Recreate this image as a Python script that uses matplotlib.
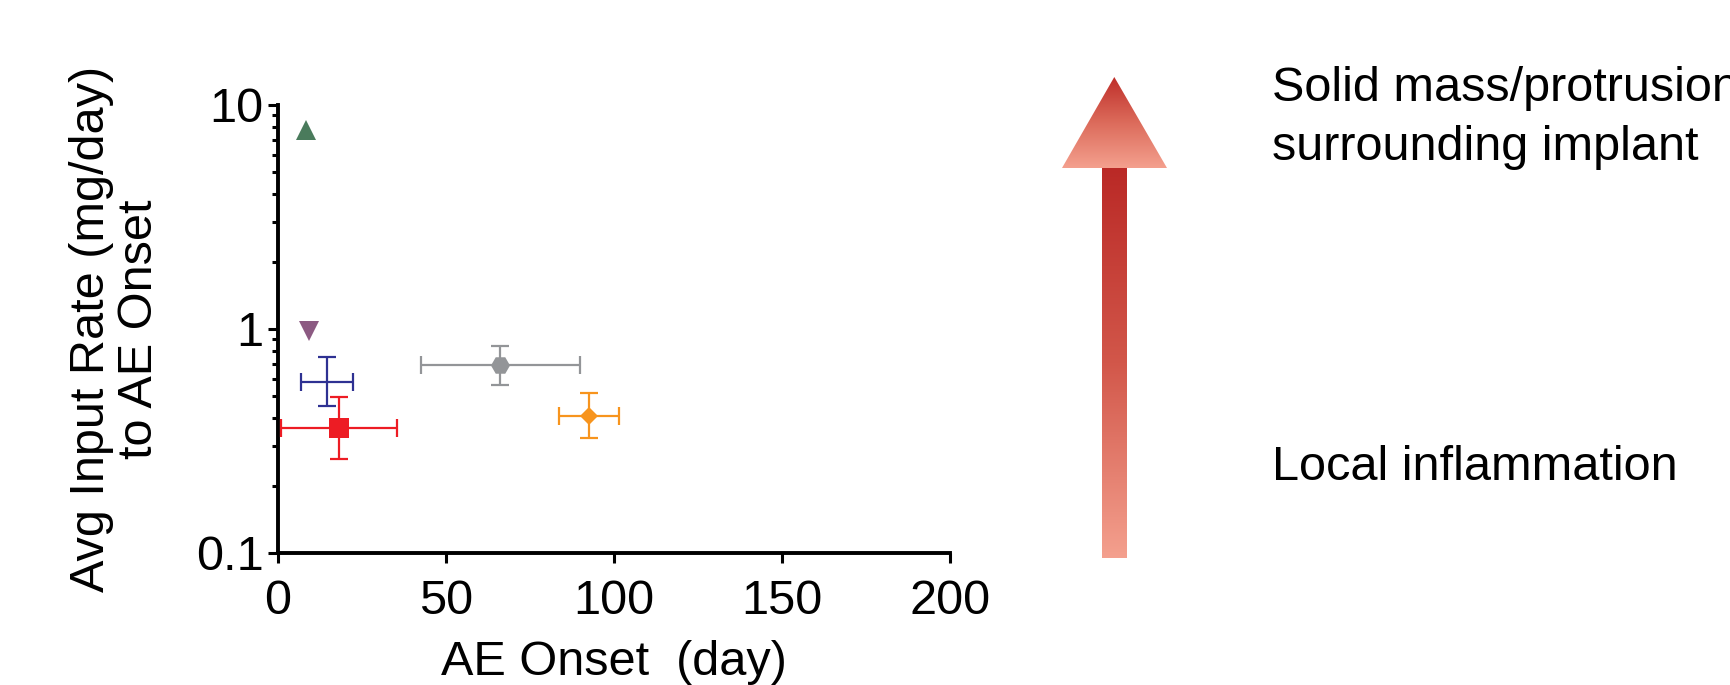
import matplotlib
matplotlib.use("Agg")
import matplotlib.pyplot as plt
import numpy as np
from matplotlib.colors import LinearSegmentedColormap
from matplotlib.patches import Polygon
from matplotlib.ticker import LogLocator, NullFormatter, FixedLocator, FixedFormatter

plt.rcParams['font.family'] = ['Liberation Sans', 'DejaVu Sans']

# ---- data ----
groups = ["green", "purple", "blue", "red", "grey", "orange"]
onset_day = [8.2, 9.2, 14.6, 18.2, 66.1, 92.6]
rate = [7.7, 0.98, 0.58, 0.36, 0.69, 0.41]
x_err_low = [0.0, 0.0, 7.8, 17.3, 23.5, 8.9]
x_err_high = [0.0, 0.0, 7.7, 17.3, 23.7, 8.8]
y_err_low = [0.0, 0.0, 0.128, 0.097, 0.128, 0.085]
y_err_high = [0.0, 0.0, 0.170, 0.137, 0.151, 0.110]
colors = ["#4A7B5C", "#8C5A82", "#2E3192", "#ED1C24", "#939598", "#F7941D"]
markers = ["^", "v", "", "s", "H", "D"]
msizes = [14.4, 14.4, 0, 14.4, 13.7, 9.4]

x_ticks = [0, 50, 100, 150, 200]
y_ticks = [0.1, 1, 10]
y_tick_labels = ["0.1", "1", "10"]

W, H = 1731, 685
fig = plt.figure(figsize=(W / 100, H / 100), dpi=100)

ax = fig.add_axes([278 / W, 1 - 553 / H, (950 - 278) / W, (553 - 105) / H])
ax.set_yscale("log")
ax.set_xlim(0, 200)
ax.set_ylim(0.1, 10)

for i in range(len(groups)):
    if x_err_low[i] > 0:
        ax.errorbar([onset_day[i]], [rate[i]],
                    xerr=[[x_err_low[i]], [x_err_high[i]]],
                    yerr=[[y_err_low[i]], [y_err_high[i]]],
                    fmt="none", ecolor=colors[i],
                    elinewidth=1.6, capsize=6.8, capthick=1.6,
                    clip_on=False, zorder=3)
    if markers[i]:
        ax.plot([onset_day[i]], [rate[i]], linestyle="none", marker=markers[i],
                color=colors[i], markersize=msizes[i], markeredgewidth=0,
                clip_on=False, zorder=4)

for s in ["top", "right"]:
    ax.spines[s].set_visible(False)
for s in ["left", "bottom"]:
    ax.spines[s].set_linewidth(2.8)

ax.xaxis.set_major_locator(FixedLocator(x_ticks))
ax.set_xticklabels([str(t) for t in x_ticks])
ax.yaxis.set_major_locator(FixedLocator(y_ticks))
ax.yaxis.set_major_formatter(FixedFormatter(y_tick_labels))
ax.yaxis.set_minor_locator(LogLocator(base=10, subs=np.arange(2, 10)))
ax.yaxis.set_minor_formatter(NullFormatter())
ax.tick_params(axis="both", which="major", direction="out", length=7.5, width=2.2,
               labelsize=35)
ax.tick_params(axis="x", which="major", pad=11)
ax.tick_params(axis="y", which="major", pad=3)
ax.tick_params(axis="y", which="minor", direction="out", length=4, width=2.2)
ax.tick_params(axis="x", which="minor", length=0)

ax.set_xlabel("AE Onset  (day)", fontsize=35, labelpad=12)
ax.set_ylabel("Avg Input Rate (mg/day)\nto AE Onset", fontsize=35, labelpad=24,
              linespacing=1.1)

# ---- gradient arrow and annotations (figure pixel overlay) ----
ov = fig.add_axes([0, 0, 1, 1], zorder=-1)
ov.set_xlim(0, W)
ov.set_ylim(H, 0)
ov.axis("off")

cmap = LinearSegmentedColormap.from_list("arr", ["#BA2926", "#D2574A", "#F4A08E"])
grad = np.linspace(0, 1, 256).reshape(-1, 1)

# shaft
ov.imshow(grad, cmap=cmap, extent=(1102, 1127, 558, 168), origin="upper",
          aspect="auto", interpolation="bilinear")
# head
head = Polygon([[1114.3, 77], [1062, 168], [1167, 168]], closed=True,
               transform=ov.transData, facecolor="none", edgecolor="none")
ov.add_patch(head)
cmap_head = LinearSegmentedColormap.from_list("head", ["#BF2F2A", "#DC6B5B", "#F4A08E"])
im = ov.imshow(grad, cmap=cmap_head, extent=(1062, 1167, 168, 77), origin="upper",
               aspect="auto", interpolation="bilinear")
im.set_clip_path(head)
ov.set_xlim(0, W)
ov.set_ylim(H, 0)

ov.text(1272, 88, "Solid mass/protrusion", fontsize=35, va="center", ha="left")
ov.text(1272, 147, "surrounding implant", fontsize=35, va="center", ha="left")
ov.text(1272, 467, "Local inflammation", fontsize=35, va="center", ha="left")

fig.savefig("out.png", dpi=100)
